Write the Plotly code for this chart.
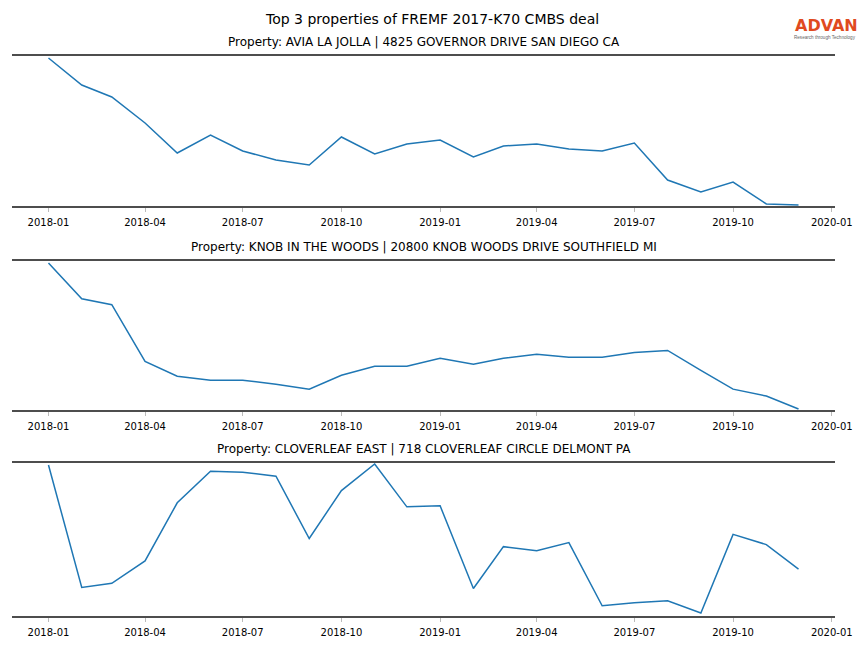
import plotly.graph_objects as go
from plotly.subplots import make_subplots

months = ["2018-01-01", "2018-02-01", "2018-03-01", "2018-04-01", "2018-05-01", "2018-06-01",
          "2018-07-01", "2018-08-01", "2018-09-01", "2018-10-01", "2018-11-01", "2018-12-01",
          "2019-01-01", "2019-02-01", "2019-03-01", "2019-04-01", "2019-05-01", "2019-06-01",
          "2019-07-01", "2019-08-01", "2019-09-01", "2019-10-01", "2019-11-01", "2019-12-01"]

avia_la_jolla = [148, 121, 109, 83, 53, 71, 55, 46, 41, 69, 52, 62,
                 66, 49, 60, 62, 57, 55, 63, 26, 14, 24, 2, 1]
knob_in_the_woods = [148, 112, 106, 49, 34, 30, 30, 26, 21, 35, 44, 44,
                     52, 46, 52, 56, 53, 53, 58, 60, 40, 21, 14, 1]
cloverleaf_east = [148, 28, 32, 54, 111, 142, 141, 137, 76, 123, 149, 107,
                   108, 27, 68, 64, 72, 10, 13, 15, 3, 80, 70, 46]

series = [avia_la_jolla, knob_in_the_woods, cloverleaf_east]
titles = ["Property: AVIA LA JOLLA | 4825 GOVERNOR DRIVE SAN DIEGO CA",
          "Property: KNOB IN THE WOODS | 20800 KNOB WOODS DRIVE SOUTHFIELD MI",
          "Property: CLOVERLEAF EAST | 718 CLOVERLEAF CIRCLE DELMONT PA"]
main_title = "Top 3 properties of FREMF 2017-K70 CMBS deal"
logo_text = "ADVAN"
logo_sub = "Research through Technology"
tick_vals = ["2018-01-01", "2018-04-01", "2018-07-01", "2018-10-01", "2019-01-01",
             "2019-04-01", "2019-07-01", "2019-10-01", "2020-01-01"]
tick_text = ["2018-01", "2018-04", "2018-07", "2018-10", "2019-01",
             "2019-04", "2019-07", "2019-10", "2020-01"]

W, H = 864, 648


def px_x(x):
    return x / W


def px_y(y):
    return 1 - y / H


fig = make_subplots(rows=3, cols=1)

# panel pixel boxes (top, bottom)
panels = [(56, 206), (261, 410), (463, 616)]
x0, x1 = px_x(12), px_x(835)
font = "DejaVu Sans"

for i, (vals, (top, bot)) in enumerate(zip(series, panels)):
    r = i + 1
    fig.add_trace(go.Scatter(x=months, y=vals, mode="lines",
                             line=dict(color="#1f77b4", width=1.5),
                             showlegend=False, hoverinfo="skip"), row=r, col=1)
    ax = "xaxis" if r == 1 else f"xaxis{r}"
    ay = "yaxis" if r == 1 else f"yaxis{r}"
    fig.layout[ax].update(domain=[x0, x1], type="date",
                          range=["2017-11-28", "2020-01-04"],
                          tickvals=tick_vals, ticktext=tick_text,
                          ticks="outside", ticklen=4, tickcolor="#bbbbbb", tickwidth=1,
                          ticklabelstandoff=2,
                          showline=True, linecolor="#4d4d4d", linewidth=2, mirror=True,
                          showgrid=False, zeroline=False, automargin=False,
                          tickfont=dict(family=font, size=10, color="black"))
    fig.layout[ay].update(domain=[px_y(bot), px_y(top)], automargin=False,
                          range=[0, 150], showticklabels=False, showgrid=False,
                          zeroline=False, showline=False, ticks="")
    fig.add_annotation(text=titles[i], xref="paper", yref="paper",
                       x=(x0 + x1) / 2, y=px_y(top - 14.5), xanchor="center", yanchor="middle",
                       showarrow=False, font=dict(family=font, size=12, color="black"))

fig.add_annotation(text=main_title, xref="paper", yref="paper", x=px_x(432), y=px_y(19),
                   xanchor="center", yanchor="middle", showarrow=False,
                   font=dict(family=font, size=14, color="black"))
# logo
fig.add_annotation(text=logo_text, xref="paper", yref="paper", x=px_x(826), y=px_y(26),
                   xanchor="center", yanchor="middle", showarrow=False, borderpad=0,
                   font=dict(family="DejaVu Sans", size=16, color="#e04a1f", weight="bold"))
fig.add_annotation(text=logo_sub, xref="paper", yref="paper",
                   x=px_x(825), y=px_y(37.5), xanchor="center", yanchor="middle", showarrow=False,
                   borderpad=0, font=dict(family="Liberation Sans", size=4.6, color="#666666"))

fig.update_layout(width=W, height=H, margin=dict(l=0, r=0, t=0, b=0, autoexpand=False),
                  paper_bgcolor="white", plot_bgcolor="white")
fig.write_html("out.html", config={"displayModeBar": False},
               post_script="document.body.style.margin='0px';"
                           "document.body.style.overflow='hidden';")
